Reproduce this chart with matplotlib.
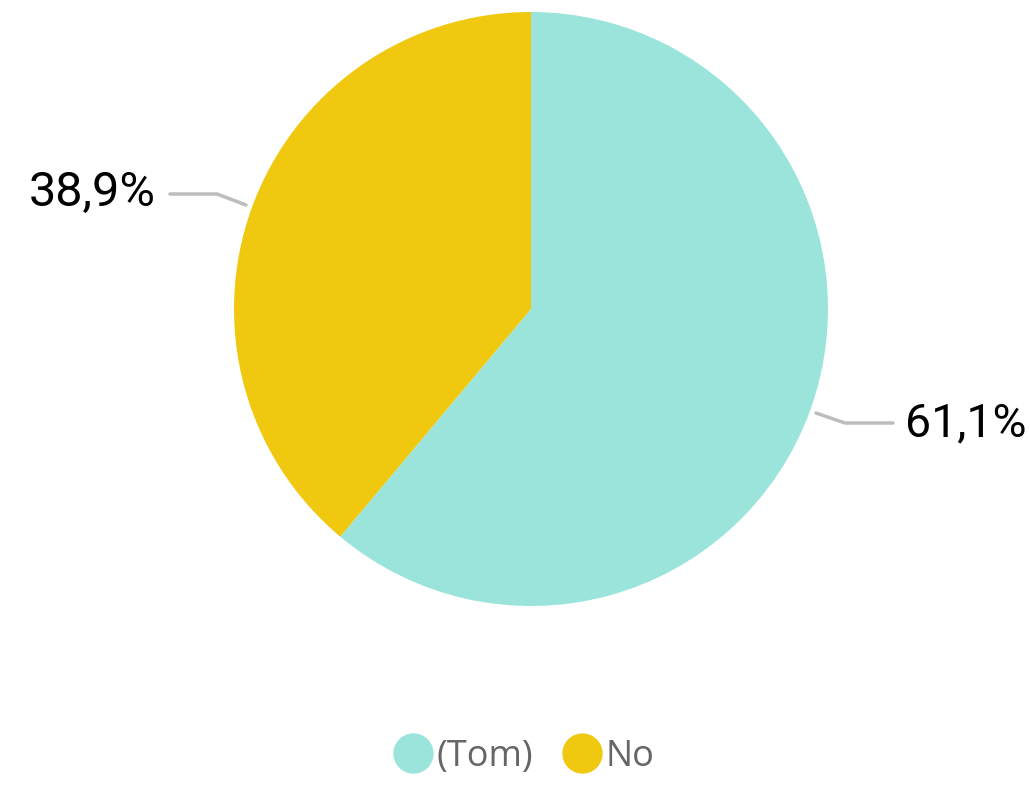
import matplotlib
matplotlib.use("Agg")
import matplotlib.pyplot as plt
from matplotlib.lines import Line2D

categories = ["(Tom)", "No"]
values = [61.1, 38.9]
labels = ["61,1%", "38,9%"]
colors = ["#9AE4DC", "#F0C80F"]

W, H = 1030, 787
fig = plt.figure(figsize=(W / 100, H / 100), dpi=100)
cx, cy, r = 531, 309, 297
ax = fig.add_axes([(cx - r) / W, (H - cy - r) / H, 2 * r / W, 2 * r / H])
ax.axis("off")

wedges, _ = ax.pie(values, colors=colors, startangle=90, counterclock=False,
                   radius=1, center=(0, 0), frame=False)
ax.set_xlim(-1, 1)
ax.set_ylim(-1, 1)
ax.set_aspect("auto")

def d(px, py):
    return ((px - cx) / r, (cy - py) / r)

line_col = "#BDBDBD"
# right label (Tom)
p = [d(816, 413), d(845, 423), d(893, 423)]
ax.plot([q[0] for q in p], [q[1] for q in p], color=line_col, lw=2.5, clip_on=False, solid_capstyle="round")
tx, ty = d(905, 423)
ax.text(tx, ty, labels[0], ha="left", va="center", fontsize=33.5, family="Roboto", color="black", clip_on=False)
# left label (No)
p = [d(246, 205), d(217, 194), d(170, 194)]
ax.plot([q[0] for q in p], [q[1] for q in p], color=line_col, lw=2.5, clip_on=False, solid_capstyle="round")
tx, ty = d(156, 193)
ax.text(tx, ty, labels[1], ha="right", va="center", fontsize=35, family="Roboto", color="black", clip_on=False)

handles = [Line2D([0], [0], marker="o", linestyle="none", markersize=28,
                  markerfacecolor=c, markeredgecolor=c) for c in colors]
leg = fig.legend(handles, categories, loc="center", bbox_to_anchor=(522 / W, 1 - 757 / H),
                 ncol=2, frameon=False, handletextpad=0.0, columnspacing=0.7,
                 handlelength=1.3, prop={"family": "Open Sans", "size": 26})
for t in leg.get_texts():
    t.set_color("#666666")

fig.savefig("out.png", dpi=100)
